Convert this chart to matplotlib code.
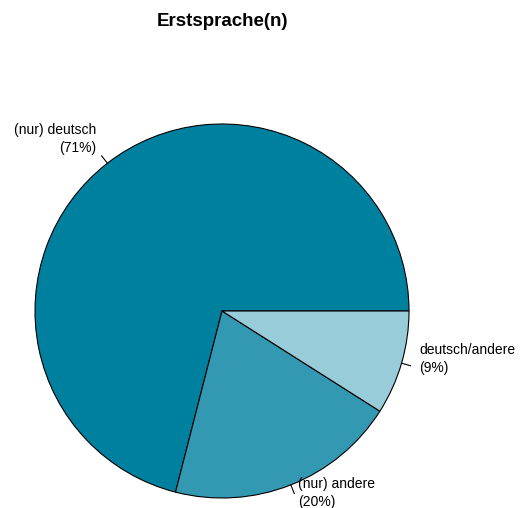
import numpy as np
import matplotlib
matplotlib.use('Agg')
import matplotlib.pyplot as plt

plt.rcParams['font.family'] = ['Liberation Sans', 'DejaVu Sans']

# Erstsprache data (shares in %)
labels = ['(nur) deutsch', '(nur) andere', 'deutsch/andere']
shares = [71, 20, 9]
colors = ['#00809f', '#3399b2', '#99ccd9']

fig = plt.figure(figsize=(5.21, 5.08), dpi=100)
ax = fig.add_axes([0, 0, 1, 1])

wedges, _ = ax.pie(shares, colors=colors, startangle=0, counterclock=True,
                   radius=1, wedgeprops=dict(edgecolor='black', linewidth=0.8))

# pie() resets the limits, so set them afterwards (centre at px 222,311, r=187px)
ax.set_xlim(-222 / 187, (521 - 222) / 187)
ax.set_ylim(-197 / 187, 311 / 187)
ax.set_aspect('equal')
ax.axis('off')

# labels like R's pie(): tick from r=1 to 1.05, text at 1.1
for w, lab, s in zip(wedges, labels, shares):
    mid = np.deg2rad((w.theta1 + w.theta2) / 2)
    cx, cy = np.cos(mid), np.sin(mid)
    ax.plot([cx, 1.05 * cx], [cy, 1.05 * cy], color='black', lw=0.8)
    ax.text(1.1 * cx, 1.1 * cy + 0.05, f'{lab}\n({s}%)', fontsize=10,
            ha='right' if cx < 0 else 'left', va='center', linespacing=1.3)

fig.text(222 / 521, 1 - 22 / 508, 'Erstsprache(n)', fontsize=13.5, fontweight='bold',
         ha='center', va='center')

fig.savefig('out.png', dpi=100)
